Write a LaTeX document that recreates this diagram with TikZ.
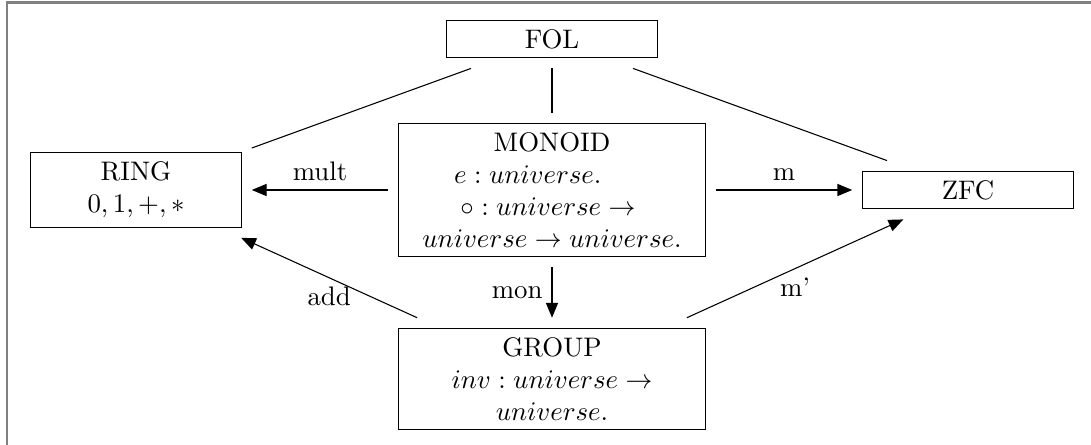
\documentclass[tikz,border=0pt]{standalone}
\usepackage{amsmath}
\usetikzlibrary{arrows.meta}

\begin{document}
\begin{tikzpicture}[x=0.0131cm,y=-0.0131cm,
		theory/.style={draw,align=flush center,text width=2.52cm,inner sep=0.3333em,outer sep=4pt},
		bigtheory/.style={theory,text width=3.78cm},
		morph/.style={-{Triangle[length=5.5pt,width=4.5pt]}}]
			\useasboundingbox (0,0) rectangle (1091,445);
			\draw[gray,line width=0.8pt] (6.7,445) -- (6.7,2.5) -- (1091,2.5);

			\node[theory] (fol) at (552,39) {FOL};
			\node[theory] (ring) at (136,190) {RING\\ $0,1,+,*$};
			\node[bigtheory] (monoid) at (552,190) {MONOID\\ $e : universe.$\rule{18pt}{0pt}\\ $\circ : universe \to$\rule{3pt}{0pt}\\ $universe \to universe.$};
			\node[theory] (zfc) at (968,190) {ZFC};
			\node[bigtheory] (group) at (552,379) {GROUP\\ $inv : universe \to$\\ $universe.$};

			\draw (fol) -- (ring);
			\draw (fol) -- (monoid);
			\draw (fol) -- (zfc);
			\draw[morph] (monoid) -- node[above] {mult} (ring);
			\draw[morph] (monoid) -- node[above] {m} (zfc);
			\draw[morph] (monoid) -- node[left] {mon} (group);
			\draw[morph] (group) -- node[below] {add} (ring);
			\draw[morph] (group) -- node[below] {m'} (zfc);
			\end{tikzpicture}
\end{document}
